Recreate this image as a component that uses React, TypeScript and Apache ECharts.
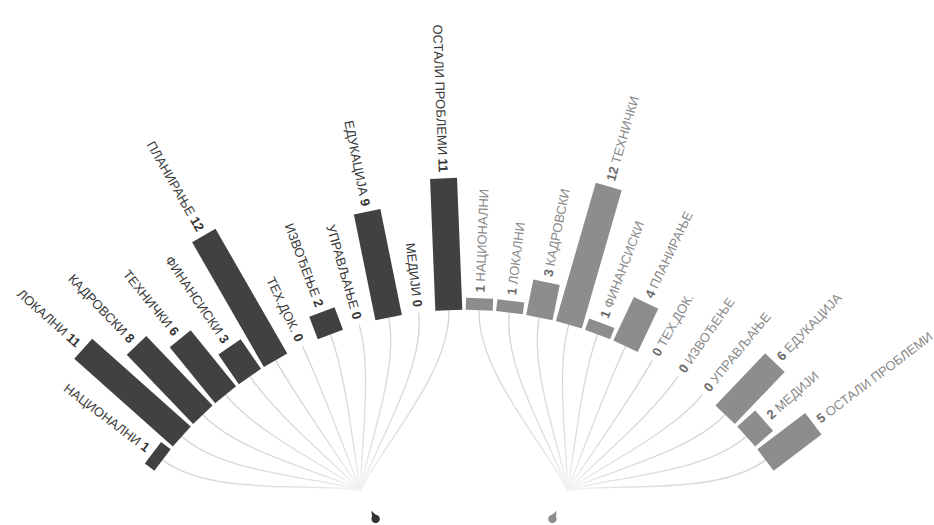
import { useEffect, useRef } from 'react';
import * as echarts from 'echarts';

// ---- data ----
const categories = [
  'НАЦИОНАЛНИ', 'ЛОКАЛНИ', 'КАДРОВСКИ', 'ТЕХНИЧКИ', 'ФИНАНСИСКИ', 'ПЛАНИРАЊЕ',
  'ТЕХ.ДОК.', 'ИЗВОЂЕЊЕ', 'УПРАВЉАЊЕ', 'ЕДУКАЦИЈА', 'МЕДИЈИ', 'ОСТАЛИ ПРОБЛЕМИ',
];
const leftValues = [1, 11, 8, 6, 3, 12, 0, 2, 0, 9, 0, 11];
const rightValues = [1, 1, 3, 12, 1, 4, 0, 0, 0, 6, 2, 5];

// ---- layout (degrees / radius-axis units) ----
const START_ANGLE = 145.2;
const STEP = 4.6;
const HUB_R = -12.9;
const DOT_R = -15.6;
const LABEL_GAP = 0.5;
const BAR_W = 27;
const LEFT_COLOR = '#414141';
const RIGHT_COLOR = '#8d8d8d';
const FONT = '"Liberation Sans", Arial, sans-serif';

const angleOf = (g: number) => START_ANGLE - (g + 0.5) * STEP;
const hubAngle = (side: number) => START_ANGLE - (side === 0 ? 6 : 18) * STEP;

const barData = [
  ...leftValues.map((v, i) => [v, angleOf(i), 0, i]),
  ...rightValues.map((v, i) => [v, angleOf(12 + i), 1, i]),
];
const hubData = [
  [DOT_R, hubAngle(0), 0],
  [DOT_R, hubAngle(1), 1],
];

function unitAt(api: any, a: number) {
  const p0 = api.coord([0, a]);
  const p1 = api.coord([1, a]);
  const dx = p1[0] - p0[0];
  const dy = p1[1] - p0[1];
  const l = Math.hypot(dx, dy) || 1;
  return [dx / l, dy / l];
}

export default function App() {
  const ref = useRef<HTMLDivElement>(null);
  useEffect(() => {
    if (!ref.current) return;
    const chart = echarts.init(ref.current, undefined, { renderer: 'svg' });

    const curves = {
      type: 'custom',
      coordinateSystem: 'polar',
      encode: { radius: 0, angle: 1 },
      data: barData,
      silent: true,
      z: 1,
      renderItem: (_p: any, api: any) => {
        const a = api.value(1);
        const side = api.value(2);
        const base = api.coord([0, a]);
        const hub = api.coord([HUB_R, hubAngle(side)]);
        const u = unitAt(api, a);
        const d = Math.hypot(base[0] - hub[0], base[1] - hub[1]);
        const cp1 = [hub[0] + (base[0] - hub[0]) * 0.25, hub[1] + (base[1] - hub[1]) * 0.25];
        const cp2 = [base[0] - u[0] * d * 0.3, base[1] - u[1] * d * 0.3];
        return {
          type: 'bezierCurve',
          shape: {
            x1: hub[0], y1: hub[1], x2: base[0], y2: base[1],
            cpx1: cp1[0], cpy1: cp1[1], cpx2: cp2[0], cpy2: cp2[1],
          },
          style: {
            fill: 'none',
            lineWidth: 1.3,
            stroke: {
              type: 'linear', global: true,
              x: base[0], y: base[1], x2: hub[0], y2: hub[1],
              colorStops: [
                { offset: 0, color: '#d2d2d2' },
                { offset: 0.75, color: '#e0e0e0' },
                { offset: 1, color: '#f3f3f3' },
              ],
            },
          },
        };
      },
    };

    const bars = {
      type: 'custom',
      coordinateSystem: 'polar',
      encode: { radius: 0, angle: 1 },
      data: barData,
      z: 2,
      renderItem: (_p: any, api: any) => {
        const v = api.value(0);
        const a = api.value(1);
        const side = api.value(2);
        const idx = api.value(3);
        const base = api.coord([0, a]);
        const top = api.coord([v, a]);
        const u = unitAt(api, a);
        const n = [-u[1], u[0]];
        const h = BAR_W / 2;
        const children: any[] = [];
        if (v > 0) {
          children.push({
            type: 'polygon',
            shape: {
              points: [
                [base[0] + n[0] * h, base[1] + n[1] * h],
                [top[0] + n[0] * h, top[1] + n[1] * h],
                [top[0] - n[0] * h, top[1] - n[1] * h],
                [base[0] - n[0] * h, base[1] - n[1] * h],
              ],
            },
            style: { fill: side === 0 ? LEFT_COLOR : RIGHT_COLOR },
          });
        }
        const lp = api.coord([v + LABEL_GAP, a]);
        const rad = (a * Math.PI) / 180;
        const name = categories[idx];
        children.push({
          type: 'text',
          x: lp[0],
          y: lp[1],
          rotation: side === 0 ? rad - Math.PI : rad,
          style: {
            text: side === 0 ? `{t|${name}} {n|${v}}` : `{n|${v}} {t|${name}}`,
            align: side === 0 ? 'right' : 'left',
            verticalAlign: 'middle',
            fontFamily: FONT,
            fontSize: 13,
            fill: side === 0 ? '#3a3a3a' : '#8a8a8a',
            rich: {
              t: {
                fontFamily: FONT, fontSize: 13,
                fill: side === 0 ? '#3a3a3a' : '#8a8a8a',
                color: side === 0 ? '#3a3a3a' : '#8a8a8a',
              },
              n: {
                fontFamily: FONT, fontSize: 13, fontWeight: 'bold',
                fill: side === 0 ? '#333333' : '#6a6a6a',
                color: side === 0 ? '#333333' : '#6a6a6a',
              },
            },
          },
        });
        return { type: 'group', children };
      },
    };

    const dots = {
      type: 'custom',
      coordinateSystem: 'polar',
      encode: { radius: 0, angle: 1 },
      data: hubData,
      z: 3,
      silent: true,
      renderItem: (_p: any, api: any) => {
        const r = api.value(0);
        const a = api.value(1);
        const side = api.value(2);
        const c = api.coord([r, a]);
        const u = unitAt(api, a);
        const n = [-u[1], u[0]];
        const rr = 4.2;
        const color = side === 0 ? '#333333' : '#8d8d8d';
        return {
          type: 'group',
          children: [
            {
              type: 'polygon',
              shape: {
                points: [
                  [c[0] + n[0] * rr * 0.8, c[1] + n[1] * rr * 0.8],
                  [c[0] + u[0] * rr * 2.2, c[1] + u[1] * rr * 2.2],
                  [c[0] - n[0] * rr * 0.8, c[1] - n[1] * rr * 0.8],
                ],
              },
              style: { fill: color },
            },
            { type: 'circle', shape: { cx: c[0], cy: c[1], r: rr }, style: { fill: color } },
          ],
        };
      },
    };

    chart.setOption({
      animation: false,
      backgroundColor: '#ffffff',
      polar: { center: [464, 688], radius: [0, 558] },
      angleAxis: { type: 'value', min: 0, max: 360, startAngle: 0, clockwise: false, show: false },
      radiusAxis: { type: 'value', min: -31.5, max: 15, show: false },
      series: [curves, bars, dots],
    });
    return () => chart.dispose();
  }, []);

  return (
    <div
      ref={ref}
      style={{ position: 'absolute', left: 0, top: 0, width: 934, height: 525 }}
    />
  );
}
